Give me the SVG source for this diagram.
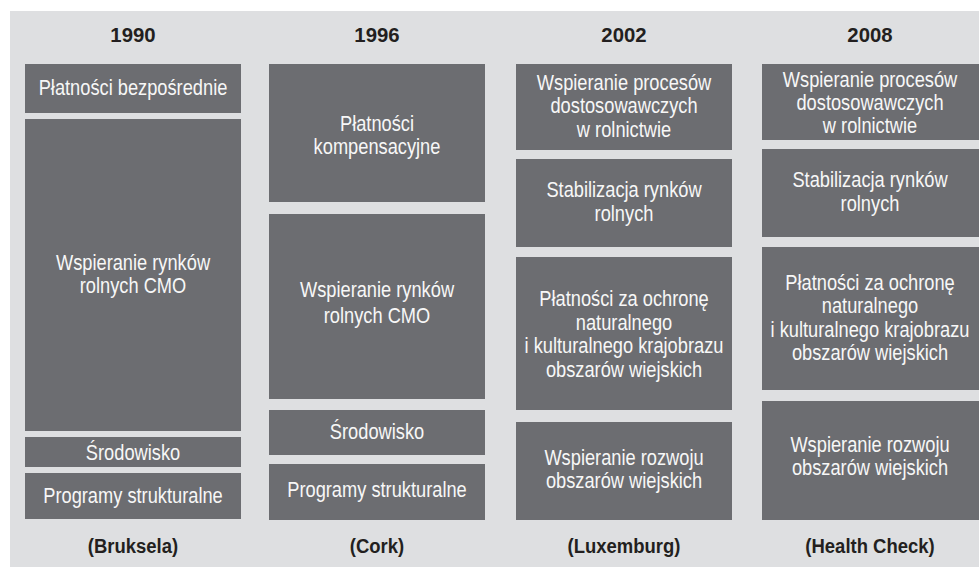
<svg xmlns="http://www.w3.org/2000/svg" width="979" height="570" viewBox="0 0 979 570">
<style>
.bg{fill:#dedfe1}
.box{fill:#6c6d71}
.t{font-family:"Liberation Sans",Arial,sans-serif;font-size:22px;fill:#f7f7f7;text-anchor:middle;transform:scaleX(0.83)}
.h{font-family:"Liberation Sans",Arial,sans-serif;font-size:21px;font-weight:bold;fill:#231f20;text-anchor:middle;transform:scaleX(0.97)}
.f{font-family:"Liberation Sans",Arial,sans-serif;font-size:21px;font-weight:bold;fill:#231f20;text-anchor:middle;transform:scaleX(0.88)}
</style>
<rect class="bg" x="10" y="11" width="969" height="556"/>
<g id="col1990">
<g transform="translate(133,0)"><text class="h" x="0" y="42">1990</text></g>
<g id="n1990a"><rect class="box" x="25" y="64" width="216" height="49"/><g transform="translate(133,0)"><text class="t" x="0" y="95">Płatności bezpośrednie</text></g></g>
<g id="n1990b"><rect class="box" x="25" y="119" width="216" height="312"/><g transform="translate(133,0)"><text class="t" x="0" y="270">Wspieranie rynków</text><text class="t" x="0" y="293">rolnych CMO</text></g></g>
<g id="n1990c"><rect class="box" x="25" y="437" width="216" height="30"/><g transform="translate(133,0)"><text class="t" x="0" y="460">Środowisko</text></g></g>
<g id="n1990d"><rect class="box" x="25" y="473" width="216" height="46"/><g transform="translate(133,0)"><text class="t" x="0" y="503">Programy strukturalne</text></g></g>
<g transform="translate(133,0)"><text class="f" x="0" y="553">(Bruksela)</text></g>
</g>
<g id="col1996">
<g transform="translate(377,0)"><text class="h" x="0" y="42">1996</text></g>
<g id="n1996a"><rect class="box" x="269" y="64" width="216" height="138"/><g transform="translate(377,0)"><text class="t" x="0" y="131">Płatności</text><text class="t" x="0" y="154">kompensacyjne</text></g></g>
<g id="n1996b"><rect class="box" x="269" y="214" width="216" height="185"/><g transform="translate(377,0)"><text class="t" x="0" y="297">Wspieranie rynków</text><text class="t" x="0" y="323">rolnych CMO</text></g></g>
<g id="n1996c"><rect class="box" x="269" y="410" width="216" height="45"/><g transform="translate(377,0)"><text class="t" x="0" y="439">Środowisko</text></g></g>
<g id="n1996d"><rect class="box" x="269" y="464" width="216" height="56"/><g transform="translate(377,0)"><text class="t" x="0" y="497">Programy strukturalne</text></g></g>
<g transform="translate(377,0)"><text class="f" x="0" y="553">(Cork)</text></g>
</g>
<g id="col2002">
<g transform="translate(624,0)"><text class="h" x="0" y="42">2002</text></g>
<g id="n2002a"><rect class="box" x="516" y="64" width="216" height="86"/><g transform="translate(624,0)"><text class="t" x="0" y="90">Wspieranie procesów</text><text class="t" x="0" y="113">dostosowawczych</text><text class="t" x="0" y="137">w rolnictwie</text></g></g>
<g id="n2002b"><rect class="box" x="516" y="159" width="216" height="88"/><g transform="translate(624,0)"><text class="t" x="0" y="197">Stabilizacja rynków</text><text class="t" x="0" y="221">rolnych</text></g></g>
<g id="n2002c"><rect class="box" x="516" y="257" width="216" height="153"/><g transform="translate(624,0)"><text class="t" x="0" y="306">Płatności za ochronę</text><text class="t" x="0" y="330">naturalnego</text><text class="t" x="0" y="353">i kulturalnego krajobrazu</text><text class="t" x="0" y="377">obszarów wiejskich</text></g></g>
<g id="n2002d"><rect class="box" x="516" y="422" width="216" height="98"/><g transform="translate(624,0)"><text class="t" x="0" y="465">Wspieranie rozwoju</text><text class="t" x="0" y="488">obszarów wiejskich</text></g></g>
<g transform="translate(624,0)"><text class="f" x="0" y="553">(Luxemburg)</text></g>
</g>
<g id="col2008">
<g transform="translate(870,0)"><text class="h" x="0" y="42">2008</text></g>
<g id="n2008a"><rect class="box" x="762" y="64" width="217" height="76"/><g transform="translate(870,0)"><text class="t" x="0" y="87">Wspieranie procesów</text><text class="t" x="0" y="110">dostosowawczych</text><text class="t" x="0" y="133">w rolnictwie</text></g></g>
<g id="n2008b"><rect class="box" x="762" y="149" width="217" height="88"/><g transform="translate(870,0)"><text class="t" x="0" y="187">Stabilizacja rynków</text><text class="t" x="0" y="211">rolnych</text></g></g>
<g id="n2008c"><rect class="box" x="762" y="247" width="217" height="143"/><g transform="translate(870,0)"><text class="t" x="0" y="290">Płatności za ochronę</text><text class="t" x="0" y="313">naturalnego</text><text class="t" x="0" y="337">i kulturalnego krajobrazu</text><text class="t" x="0" y="360">obszarów wiejskich</text></g></g>
<g id="n2008d"><rect class="box" x="762" y="401" width="217" height="119"/><g transform="translate(870,0)"><text class="t" x="0" y="452">Wspieranie rozwoju</text><text class="t" x="0" y="475">obszarów wiejskich</text></g></g>
<g transform="translate(870,0)"><text class="f" x="0" y="553">(Health Check)</text></g>
</g>
<g id="connectors"/>
</svg>
